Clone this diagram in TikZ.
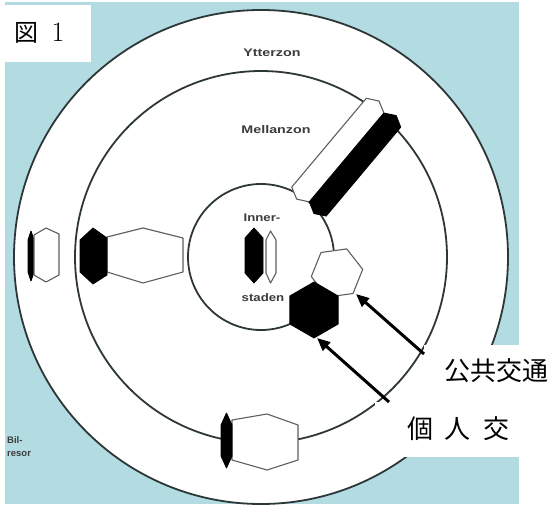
\documentclass[tikz,border=0pt]{standalone}
\usepackage{fontspec}
\usepackage{graphicx}
\newfontfamily\cjk{Noto Sans CJK JP}
\newfontfamily\labf{Liberation Sans}
\usetikzlibrary{arrows.meta}
\definecolor{bgblue}{RGB}{178,220,226}
\definecolor{ringline}{RGB}{45,55,55}
\definecolor{shapeline}{RGB}{95,95,95}
\definecolor{labgray}{RGB}{60,60,60}
\begin{document}
\begin{tikzpicture}[x=1pt,y=-1pt,
  ring/.style={draw=ringline,line width=1.8pt},
  whitehex/.style={fill=white,draw=shapeline,line width=1.1pt,line join=round},
  blackhex/.style={fill=black,draw=black,line width=0.8pt,line join=round},
  zonelabel/.style={font=\labf\bfseries\fontsize{11}{11}\selectfont,text=labgray,inner sep=0},
  smalllabel/.style={font=\labf\bfseries\fontsize{9.5}{9.5}\selectfont,text=labgray,inner sep=0,anchor=west},
  callout/.style={fill=white,inner sep=0,anchor=north west},
  jp/.style={font=\cjk\fontsize{26}{26}\selectfont,inner sep=0},
  pointer/.style={-{Triangle[length=13pt,width=11pt]},line width=3pt}
]
\useasboundingbox (0,0) rectangle (554,508);
\fill[bgblue] (5,2) rectangle (519,504);
\coordinate (C) at (261,257);
\draw[ring,fill=white] (C) circle[radius=247];
\draw[ring] (C) circle[radius=186];
\draw[ring] (C) circle[radius=73];

% diagonal pair
\begin{scope}[shift={(305.5,206.5)},rotate=50]
  \draw[whitehex] (0,-11.5) -- (6,-23) -- (122,-23) -- (128,-11.5) -- (122,0) -- (6,0) -- cycle;
  \draw[blackhex] (0,11) -- (6,0) -- (122,0) -- (128,11) -- (122,22) -- (6,22) -- cycle;
\end{scope}

% inner city pair
\draw[blackhex] (245,238) -- (254,228) -- (263,238) -- (263,273) -- (254,283) -- (245,273) -- cycle;
\draw[whitehex] (266,240) -- (270.5,231) -- (276,240) -- (276,273) -- (270.5,283) -- (266,273) -- cycle;

% left group
\draw[blackhex] (28,240) -- (31,231) -- (34,240) -- (34,272) -- (31,281) -- (28,272) -- cycle;
\draw[whitehex] (34,235) -- (46,228) -- (59,234) -- (59,275) -- (46,282) -- (34,275) -- cycle;
\draw[whitehex] (107,237) -- (143,228) -- (183,238) -- (183,272) -- (143,283) -- (107,272) -- cycle;
\draw[blackhex] (80,240) -- (93,228) -- (107,238) -- (107,275) -- (93,284) -- (80,272) -- cycle;

% bottom group
\draw[whitehex] (232,420) -- (267,414) -- (298,425) -- (298,460) -- (267,470) -- (232,460) -- cycle;
\draw[blackhex] (221,425) -- (226.5,413) -- (232,425) -- (232,456) -- (226.5,468) -- (221,456) -- cycle;

% lower right pair
\draw[whitehex] (362.7,269.4) -- (346.7,248.9) -- (321.0,252.5) -- (311.3,276.6) -- (327.3,297.1) -- (353.0,293.5) -- cycle;
\draw[blackhex] (314,282) -- (338.2,296) -- (338.2,324) -- (314,338) -- (289.8,324) -- (289.8,296) -- cycle;

% zone labels
\node[zonelabel] (ytter) at (272,53) {\scalebox{1.3}[1]{Ytterzon}};
\node[zonelabel] (mellan) at (276,130) {\scalebox{1.3}[1]{Mellanzon}};
\node[zonelabel] (inner) at (262,218) {\scalebox{1.2}[1]{Inner-}};
\node[zonelabel] (staden) at (263,298) {\scalebox{1.2}[1]{staden}};
\node[smalllabel] (bil) at (7,440) {Bil-};
\node[smalllabel] (resor) at (7,454) {resor};

% figure label
\node[callout,minimum width=86pt,minimum height=57pt] (figbox) at (5,5) {};
\node[anchor=base west,inner sep=0] (fig) at (14.5,42) {\cjk\fontsize{24}{24}\selectfont 図\hspace{13pt}\rmfamily\fontsize{28}{28}\selectfont 1};

% callouts
\node[callout,minimum width=130pt,minimum height=57pt] (pubbox) at (424,345) {};
\node[callout,minimum width=179pt,minimum height=55pt] (privbox) at (375,402) {};
\node[jp] (pub) at (496,371) {公共交通};
\node[jp] (priv) at (458,429) {個\hspace{12pt}人\hspace{12pt}交};

\coordinate (pubtail) at (424,354);
\coordinate (pubtip) at (356,294);
\coordinate (privtail) at (389,402);
\coordinate (privtip) at (317,338);
\draw[pointer] (pubtail) -- (pubtip);
\draw[pointer] (privtail) -- (privtip);
\end{tikzpicture}
\end{document}
